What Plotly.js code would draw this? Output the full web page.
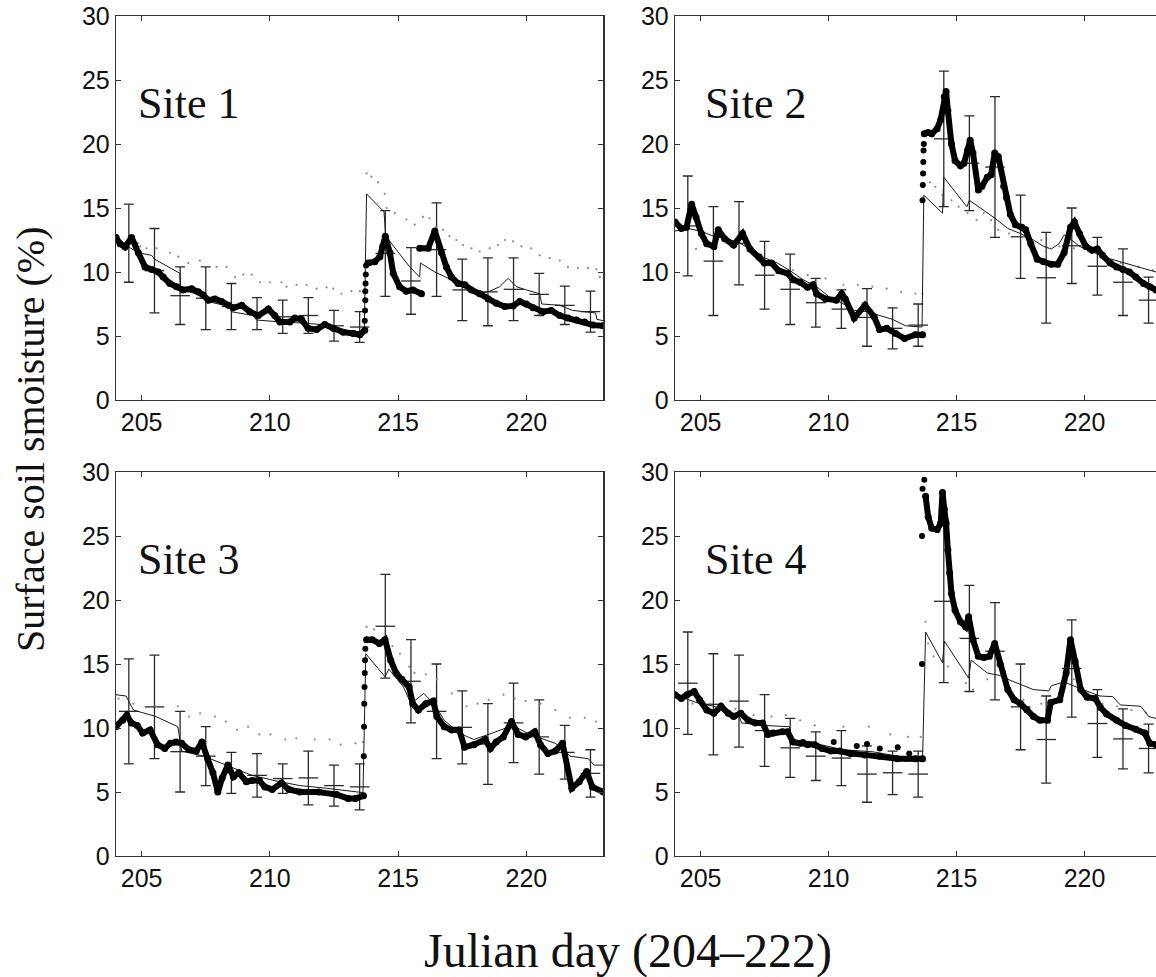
<!DOCTYPE html>
<html>
<head>
<meta charset="utf-8">
<script src="https://cdn.plot.ly/plotly-3.0.1.min.js"></script>
<style>
html,body{margin:0;padding:0;background:#fff;overflow:hidden;}
#chart{width:1156px;height:977px;}
</style>
</head>
<body>
<div id="chart"></div>
<script>
// ---------- shared ----------
const barDays = [204.5,205.5,206.5,207.5,208.5,209.5,210.5,211.5,212.5,213.5,214.5,215.5,216.5,217.5,218.5,219.5,220.5,221.5,222.5];
const xTickVals = [205,210,215,220];
const yTickVals = [0,5,10,15,20,25,30];
const siteNames = ["Site 1","Site 2","Site 3","Site 4"];
const yTitle = "Surface soil smoisture (%)";
const xTitle = "Julian day (204\u2013222)";

// ---------- Site 1 ----------
const s1ObsX = [204.0,204.16,204.35,204.61,204.87,205.13,205.39,205.65,205.84,206.1,206.36,206.62,206.95,207.21,207.4,207.6,207.86,208.12,208.38,208.57,208.9,209.22,209.55,209.94,210.19,210.39,210.78,210.97,211.23,211.49,211.82,212.14,212.47,212.86,213.25,213.51,213.7,null,
  213.83,214.09,214.29,214.4,214.5,214.68,214.81,215.06,215.32,215.58,215.91,null,
  215.84,216.17,216.43,216.69,216.88,217.08,217.34,217.6,217.86,218.18,218.51,218.83,219.16,219.48,219.74,220.0,220.26,220.65,220.97,221.3,221.62,221.95,222.27,222.6,222.99];
const s1ObsY = [12.7,12.2,11.95,12.7,11.5,10.4,10.2,10.0,9.6,9.1,8.85,8.6,8.7,8.45,8.2,7.8,7.9,7.7,7.4,7.2,7.4,6.9,6.6,7.1,6.6,6.1,6.1,6.4,6.3,5.6,5.5,5.9,5.6,5.3,5.2,5.1,5.45,null,
  10.7,10.8,11.2,12.0,12.8,11.5,9.9,8.85,8.5,8.6,8.3,null,
  11.85,11.85,13.2,11.5,10.4,9.6,9.1,9.0,8.6,8.3,7.9,7.55,7.3,7.35,7.7,7.5,7.2,6.9,7.0,6.6,6.4,6.25,6.1,5.85,5.8];
const s1JumpX = [213.7,213.71,213.72,213.72,213.73,213.74,213.75];
const s1JumpY = [6.2,7.0,7.8,8.5,9.1,9.8,10.5];
const s1ModX = [204.0,204.29,204.87,205.39,205.5,206.49,206.52,207.53,207.56,208.44,208.5,209.35,209.48,210.39,211.36,211.95,212.34,213.5,213.68,213.77,214.45,214.52,215.45,215.84,215.87,216.43,217.08,217.53,218.18,218.57,218.96,219.29,219.61,220.0,220.52,220.6,221.3,221.8,222.4,222.7,222.75,223.0];
const s1ModY = [12.7,12.2,11.5,11.3,11.0,9.9,8.6,8.1,7.7,7.3,6.9,6.6,6.25,6.1,6.0,5.9,5.6,5.35,5.3,16.1,14.7,12.8,10.4,9.6,10.7,10.0,9.4,8.85,8.3,8.5,8.85,9.5,8.85,8.6,8.3,7.5,7.4,7.0,6.9,6.8,6.3,6.2];
const s1DotX = [204.94,205.19,205.58,206.1,206.43,206.82,207.27,207.92,208.31,208.64,208.96,209.29,209.61,210.0,210.45,210.65,211.04,211.43,211.82,212.21,212.47,212.79,213.18,213.51,
  213.77,213.96,214.22,214.48,214.55,214.87,215.32,215.65,215.97,216.23,216.49,216.75,217.0,217.27,217.53,217.86,218.18,218.57,218.9,219.16,219.48,219.81,220.19,220.52,220.91,221.3,221.62,222.01,222.4,222.73,222.86];
const s1DotY = [12.0,11.85,11.85,11.5,11.2,10.7,10.9,10.4,10.4,9.6,9.8,9.8,9.2,9.2,9.2,8.85,9.0,9.0,8.7,8.8,8.7,8.3,8.5,8.5,
  17.7,17.45,17.0,16.1,15.0,14.6,14.1,13.7,14.3,14.2,13.5,13.3,12.8,12.5,12.1,11.85,11.6,11.85,12.1,12.5,12.4,12.0,11.85,11.3,11.1,10.9,10.4,10.3,10.3,10.2,9.6];
const s1BarMean = [12.25,10.1,8.15,7.95,7.3,6.75,6.5,6.6,5.8,5.7,11.45,9.3,11.75,8.6,8.45,8.65,8.25,7.4,6.9];
const s1BarStd  = [3.05,3.3,2.25,2.45,1.8,1.25,1.3,1.4,1.2,1.2,3.35,2.6,3.65,2.4,2.65,2.45,1.65,1.5,1.6];

// ---------- Site 2 ----------
const s2ObsX = [204.0,204.25,204.45,204.65,204.82,205.03,205.24,205.52,205.69,205.94,206.29,206.64,206.93,207.28,207.49,207.77,208.05,208.4,208.61,208.89,209.18,209.39,209.53,209.88,210.3,210.51,210.65,211.0,211.42,211.78,211.99,212.27,212.62,212.97,213.39,213.67,null,
  213.74,213.88,214.03,214.24,214.38,214.52,214.59,214.66,214.8,214.94,215.15,215.29,215.43,215.53,215.64,215.85,215.99,216.2,216.35,216.49,216.63,216.84,216.95,217.1,217.3,217.55,217.7,217.9,218.15,218.4,218.7,218.95,219.2,219.45,219.6,219.8,220.05,220.3,220.5,220.7,221.0,221.25,221.5,221.75,222.0,222.3,222.55,222.79];
const s2ObsY = [13.9,13.4,13.5,15.3,14.3,13.0,12.2,12.0,13.3,12.6,12.1,13.0,11.8,11.2,10.7,10.7,10.1,9.9,9.4,9.2,8.8,9.0,8.3,7.9,7.8,8.3,7.9,6.4,7.4,6.5,5.5,5.6,5.2,4.8,5.1,5.1,null,
  20.8,20.9,20.8,21.2,21.9,23.7,24.1,22.6,20.0,18.7,18.3,18.5,19.5,20.3,19.3,16.4,16.7,17.4,17.6,19.3,19.0,16.7,15.8,14.5,13.7,13.5,13.3,12.2,11.0,10.8,10.6,10.6,11.5,13.5,13.9,13.0,12.0,11.7,11.8,11.3,10.7,10.4,10.2,10.0,9.6,9.1,8.85,8.6];
const s2JumpX = [213.67,213.68,213.69,213.7,213.71,213.72];
const s2JumpY = [15.6,16.8,17.7,18.6,19.5,20.0];
const s2ModX = [204.0,204.5,205.0,205.5,206.0,206.5,207.0,207.5,208.0,208.5,209.0,209.5,210.0,210.5,211.0,211.5,212.0,212.5,213.0,213.65,213.72,214.45,214.5,215.4,215.5,216.0,216.5,217.0,217.5,218.0,218.4,218.7,219.0,219.2,219.5,219.8,220.3,220.7,221.4,222.2,222.79];
const s2ModY = [13.2,13.4,13.2,12.8,12.6,12.3,11.7,11.1,10.7,10.1,9.4,8.9,8.1,7.6,7.0,6.9,6.6,6.3,5.8,5.7,16.0,14.6,17.4,15.1,15.6,14.9,14.2,13.4,13.0,12.5,12.0,11.8,12.2,12.9,12.5,12.0,11.6,11.2,10.8,10.3,10.0];
const s2DotX = [204.82,205.52,206.36,207.21,207.91,208.61,209.18,209.88,210.58,211.14,211.71,212.27,212.83,213.39,213.67,
  213.74,213.96,214.17,214.45,214.8,215.08,215.43,215.78,216.06,216.35,216.63,217.05,217.61,218.31,219.02,219.58,220.14,220.7,221.41,222.11,222.67];
const s2DotY = [11.8,12.5,12.0,11.45,10.7,10.15,9.75,9.5,9.0,9.0,8.85,8.7,8.45,8.3,8.3,
  17.7,17.0,16.65,16.0,15.6,15.1,14.6,14.05,14.6,14.05,13.3,13.0,12.75,12.5,12.0,11.85,11.6,11.05,10.7,10.4,10.15];
const s2BarMean = [13.6,10.85,12.25,9.75,8.65,7.6,7.1,6.45,5.6,5.85,20.4,18.5,18.2,12.75,9.55,12.05,10.45,9.2,7.8];
const s2BarStd  = [3.9,4.25,3.25,2.65,2.75,1.9,1.5,2.25,1.6,1.65,5.3,3.7,5.5,3.25,3.55,2.95,2.25,2.6,1.8];

// ---------- Site 3 ----------
const s3ObsX = [204.0,204.26,204.42,204.6,204.83,205.04,205.33,205.62,205.9,206.12,206.34,206.56,206.85,207.13,207.35,207.57,207.78,207.97,208.14,208.36,208.58,208.79,209.08,209.3,209.59,209.8,210.09,210.45,210.74,211.17,211.9,212.6,213.05,213.34,213.65,null,
  213.77,213.99,214.27,214.49,214.71,214.92,215.14,215.43,215.57,215.79,216.08,216.37,216.51,216.8,217.09,217.38,217.59,217.95,218.39,218.6,218.82,219.1,219.42,219.68,219.97,220.33,220.55,220.84,221.13,221.41,221.77,222.06,222.35,222.57,223.0];
const s3ObsY = [10.1,10.6,11.0,10.4,10.2,9.6,9.85,8.7,8.4,8.8,8.9,8.8,8.3,8.2,8.9,7.6,6.5,5.0,6.1,7.1,6.2,6.5,5.8,5.9,5.9,5.4,5.2,5.7,5.2,5.0,5.0,4.8,4.5,4.5,4.7,null,
  16.9,16.9,16.6,16.9,15.3,14.3,13.8,13.2,11.9,11.4,11.9,12.1,10.9,10.1,9.85,9.85,8.5,8.7,9.1,8.4,8.9,9.3,10.5,9.5,9.3,9.7,8.7,8.0,8.2,8.8,5.3,5.8,6.6,5.4,5.0];
const s3JumpX = [213.66,213.67,213.68,213.69,213.7,213.71,213.72];
const s3JumpY = [7.8,10.1,11.9,13.2,14.3,15.3,16.2];
const s3ModX = [204.0,204.39,204.68,205.55,206.41,206.56,207.42,208.29,209.3,210.16,211.17,212.18,213.34,213.63,213.74,214.49,214.64,215.21,215.5,216.0,216.44,216.8,217.38,217.95,218.67,219.47,220.12,221.13,221.41,221.7,222.42,222.64,223.0];
const s3ModY = [12.6,12.5,11.4,10.9,10.1,8.2,7.8,7.1,6.3,5.9,5.5,5.3,5.0,4.95,15.8,14.0,14.6,13.2,11.9,12.7,11.8,10.6,9.6,9.1,9.6,10.2,9.5,8.8,8.4,7.8,7.6,7.1,7.1];
const s3DotX = [204.1,204.68,205.55,206.41,206.85,207.28,207.86,208.29,208.72,209.15,209.59,210.02,210.6,211.03,211.75,212.33,212.76,213.34,213.63,
  213.77,214.06,214.35,214.78,215.07,215.43,215.64,216.08,216.51,217.09,217.66,218.1,218.53,219.11,219.54,219.97,220.55,221.13,221.7,222.28,222.71];
const s3DotY = [12.3,11.9,11.7,11.7,10.9,11.15,10.9,10.5,9.85,10.1,9.5,9.5,9.1,9.2,9.1,9.1,8.7,8.8,8.9,
  17.9,17.7,16.9,16.4,15.8,14.8,14.3,14.2,13.8,12.7,11.7,11.9,12.2,12.6,12.3,12.1,11.9,11.4,10.8,10.8,10.5];
const s3BarMean = [11.3,11.65,8.15,7.8,6.5,6.3,6.05,6.1,5.5,5.4,17.95,13.65,11.3,10.05,8.75,10.4,9.3,8.1,6.45];
const s3BarStd  = [4.1,4.05,3.15,2.3,1.6,1.7,1.15,2.1,1.6,1.8,4.05,3.25,3.7,2.85,3.15,3.1,2.9,2.1,1.85];

// ---------- Site 4 ----------
const s4ObsX = [204.0,204.25,204.47,204.75,204.96,205.24,205.52,205.8,206.08,206.29,206.57,206.86,207.14,207.42,207.63,207.84,208.19,208.4,208.61,208.9,209.18,209.46,209.74,210.09,210.44,210.86,211.42,211.99,212.69,213.39,213.67,null,
  213.79,213.89,214.03,214.24,214.38,214.45,214.52,214.59,214.66,214.73,214.8,214.94,215.15,215.36,215.47,215.64,215.85,216.06,216.28,216.49,216.7,217.0,217.25,217.5,217.75,218.0,218.26,218.55,218.68,219.03,219.28,219.45,219.63,219.85,220.1,220.42,220.62,220.86,221.25,221.6,222.0,222.35,222.55,222.79];
const s4ObsY = [12.6,12.3,12.6,12.85,12.2,11.4,11.15,11.7,11.15,10.9,11.15,10.6,10.4,10.4,9.5,9.6,9.7,9.7,8.9,8.8,8.7,8.7,8.4,8.2,8.2,8.0,7.9,7.8,7.6,7.6,7.6,null,
  28.1,26.5,25.6,25.5,26.0,28.4,27.1,26.0,23.9,22.1,20.5,19.2,18.3,17.9,18.7,16.9,15.6,15.5,15.6,16.6,15.0,13.0,12.2,11.9,11.4,10.9,10.6,10.6,12.0,12.2,14.3,16.9,15.2,13.0,12.4,12.3,11.6,11.1,10.6,10.2,9.9,9.6,8.8,8.7];
const s4JumpX = [213.65,213.65,213.67,213.74,209.0,210.2,211.1,211.5,212.0,212.7,213.15];
const s4JumpY = [15.0,25.0,28.7,29.4,8.9,8.9,8.6,8.75,8.4,8.5,8.0];
const s4ModX = [204.0,204.96,205.52,206.5,206.6,207.49,208.47,208.54,209.46,210.58,211.7,212.69,212.97,213.67,213.79,214.45,214.52,215.47,215.57,216.2,216.7,217.07,218.0,218.6,218.7,219.2,219.8,220.6,221.1,221.4,222.2,222.5,222.79];
const s4ModY = [12.6,11.9,11.7,11.0,10.4,10.2,10.1,9.1,8.8,8.3,8.15,7.8,7.4,7.5,17.5,15.1,16.8,13.9,15.3,14.3,14.1,13.75,13.0,12.9,13.3,13.6,13.1,12.5,12.45,11.8,11.7,10.9,10.75];
const s4DotX = [204.68,205.38,206.36,207.07,207.77,208.33,208.89,209.46,210.58,211.57,212.41,213.11,213.6,
  213.79,213.89,214.1,214.66,215.36,215.64,216.2,216.91,217.61,218.31,219.02,219.58,220.14,220.7,221.27,221.83,222.39];
const s4DotY = [11.9,11.9,11.5,11.0,10.9,11.0,10.6,10.2,10.1,10.1,9.5,9.3,9.3,
  18.3,16.6,15.6,14.8,13.5,13.0,13.8,13.2,12.2,11.9,12.7,13.8,12.7,11.9,11.7,11.4,11.2];
const s4BarMean = [13.5,11.85,12.1,9.8,8.45,7.8,7.65,6.4,6.5,6.4,19.9,17.0,16.0,11.65,9.1,14.65,10.35,9.15,8.4];
const s4BarStd  = [4.0,3.95,3.6,2.8,2.3,1.9,2.15,2.2,1.7,1.8,6.35,4.15,3.8,3.35,3.4,3.8,2.65,2.35,1.9];

// ---------- build ----------
const sites = [
  {obsX:s1ObsX, obsY:s1ObsY, jX:s1JumpX, jY:s1JumpY, mX:s1ModX, mY:s1ModY, dX:s1DotX, dY:s1DotY, bM:s1BarMean, bS:s1BarStd},
  {obsX:s2ObsX, obsY:s2ObsY, jX:s2JumpX, jY:s2JumpY, mX:s2ModX, mY:s2ModY, dX:s2DotX, dY:s2DotY, bM:s2BarMean, bS:s2BarStd},
  {obsX:s3ObsX, obsY:s3ObsY, jX:s3JumpX, jY:s3JumpY, mX:s3ModX, mY:s3ModY, dX:s3DotX, dY:s3DotY, bM:s3BarMean, bS:s3BarStd},
  {obsX:s4ObsX, obsY:s4ObsY, jX:s4JumpX, jY:s4JumpY, mX:s4ModX, mY:s4ModY, dX:s4DotX, dY:s4DotY, bM:s4BarMean, bS:s4BarStd}
];

const traces = [];
sites.forEach((s, i) => {
  const xa = i === 0 ? 'x' : 'x' + (i + 1);
  const ya = i === 0 ? 'y' : 'y' + (i + 1);
  traces.push({
    x: barDays, y: s.bM, xaxis: xa, yaxis: ya, type: 'scatter', mode: 'markers',
    marker: {symbol: 'line-ew-open', size: 14, color: '#2a2a2a', line: {width: 1.3, color: '#2a2a2a'}},
    error_y: {type: 'data', array: s.bS, visible: true, thickness: 1.3, width: 5, color: '#2a2a2a'},
    hoverinfo: 'skip', showlegend: false
  });
  traces.push({
    x: s.dX, y: s.dY, xaxis: xa, yaxis: ya, type: 'scatter', mode: 'markers',
    marker: {size: 2.2, color: '#8a8a8a'}, hoverinfo: 'skip', showlegend: false
  });
  traces.push({
    x: s.mX, y: s.mY, xaxis: xa, yaxis: ya, type: 'scatter', mode: 'lines',
    line: {width: 1, color: '#1a1a1a'}, hoverinfo: 'skip', showlegend: false
  });
  traces.push({
    x: s.obsX, y: s.obsY, xaxis: xa, yaxis: ya, type: 'scatter', mode: 'lines+markers',
    connectgaps: false,
    line: {width: 6, color: '#000'}, marker: {size: 7, color: '#000'},
    hoverinfo: 'skip', showlegend: false
  });
  traces.push({
    x: s.jX, y: s.jY, xaxis: xa, yaxis: ya, type: 'scatter', mode: 'markers',
    marker: {size: 6, color: '#000'}, hoverinfo: 'skip', showlegend: false
  });
});
// empty traces so the top-border axes of the right-hand panels exist
traces.push({x: [], y: [], xaxis: 'x5', yaxis: 'y2', type: 'scatter', mode: 'markers', showlegend: false, hoverinfo: 'skip'});
traces.push({x: [], y: [], xaxis: 'x6', yaxis: 'y4', type: 'scatter', mode: 'markers', showlegend: false, hoverinfo: 'skip'});

const W = 1156, H = 977;
const tickFont = {family: 'Liberation Sans, Arial, sans-serif', size: 25, color: '#111'};
function axX(domain, range, anchor, mirror) {
  return {
    domain: domain, range: range, anchor: anchor,
    tickvals: xTickVals, ticktext: xTickVals.map(String),
    showline: true, mirror: mirror, linecolor: '#333', linewidth: 1.3,
    ticks: 'inside', ticklen: 5, tickwidth: 1, tickcolor: '#333',
    showgrid: false, zeroline: false, fixedrange: true, tickfont: tickFont
  };
}
function axY(domain, anchor, mirror) {
  return {
    domain: domain, range: [0, 30], anchor: anchor,
    tickvals: yTickVals, ticktext: yTickVals.map(String),
    showline: true, mirror: mirror, linecolor: '#333', linewidth: 1.3,
    ticks: 'inside', ticklen: 5, tickwidth: 1, tickcolor: '#333',
    showgrid: false, zeroline: false, fixedrange: true, tickfont: tickFont
  };
}
function axTop(over, range, anchor) {
  return {
    overlaying: over, side: 'top', anchor: anchor, range: range,
    tickvals: xTickVals, showticklabels: false,
    showline: true, linecolor: '#333', linewidth: 1.3,
    ticks: 'inside', ticklen: 5, tickwidth: 1, tickcolor: '#333',
    showgrid: false, zeroline: false, fixedrange: true
  };
}
const xL = [116 / W, 603.3 / W];
const xR = [675 / W, 1];
const rangeL = [204, 223];
const rangeR = [204, 222.79];   // right-hand panels run past the picture's right edge
const yTop = [(H - 400) / H, (H - 16) / H];
const yBot = [(H - 856) / H, (H - 472) / H];

const siteFont = {family: 'Liberation Serif, Times New Roman, serif', size: 44, color: '#111'};
const annotations = [
  {xref: 'x', yref: 'y', x: 204.78, y: 23.2, text: siteNames[0], showarrow: false, xanchor: 'left', yanchor: 'middle', font: siteFont},
  {xref: 'x2', yref: 'y2', x: 205.08, y: 23.2, text: siteNames[1], showarrow: false, xanchor: 'left', yanchor: 'middle', font: siteFont},
  {xref: 'x3', yref: 'y3', x: 204.78, y: 23.2, text: siteNames[2], showarrow: false, xanchor: 'left', yanchor: 'middle', font: siteFont},
  {xref: 'x4', yref: 'y4', x: 205.08, y: 23.2, text: siteNames[3], showarrow: false, xanchor: 'left', yanchor: 'middle', font: siteFont},
  {xref: 'paper', yref: 'paper', x: 30 / W, y: (H - 440) / H, text: yTitle, textangle: -90, showarrow: false,
   xanchor: 'center', yanchor: 'middle', font: {family: 'Liberation Serif, Times New Roman, serif', size: 40, color: '#111'}},
  {xref: 'paper', yref: 'paper', x: 628 / W, y: (H - 951) / H, text: xTitle, showarrow: false,
   xanchor: 'center', yanchor: 'middle', font: {family: 'Liberation Serif, Times New Roman, serif', size: 48, color: '#111'}}
];

const layout = {
  width: W, height: H,
  margin: {l: 0, r: 0, t: 0, b: 0, pad: 0},
  paper_bgcolor: '#fff', plot_bgcolor: '#fff',
  showlegend: false,
  xaxis: axX(xL, rangeL, 'y', 'ticks'),
  yaxis: axY(yTop, 'x', 'ticks'),
  xaxis2: axX(xR, rangeR, 'y2', false),
  yaxis2: axY(yTop, 'x2', false),
  xaxis3: axX(xL, rangeL, 'y3', 'ticks'),
  yaxis3: axY(yBot, 'x3', 'ticks'),
  xaxis4: axX(xR, rangeR, 'y4', false),
  yaxis4: axY(yBot, 'x4', false),
  xaxis5: axTop('x2', rangeR, 'y2'),
  xaxis6: axTop('x4', rangeR, 'y4'),
  annotations: annotations
};

Plotly.newPlot('chart', traces, layout, {staticPlot: true, displayModeBar: false});
</script>
</body>
</html>
